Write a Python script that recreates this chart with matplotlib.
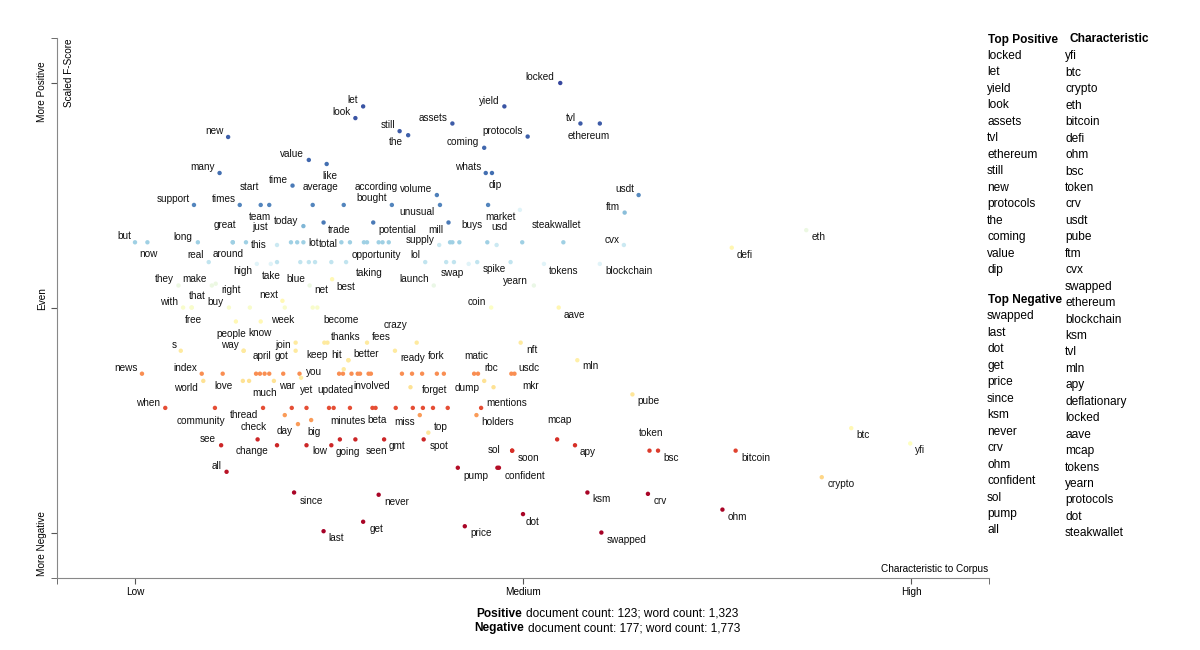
import matplotlib.pyplot as plt

plt.rcParams['font.family'] = ['Liberation Sans', 'DejaVu Sans']

# labelled terms: characteristic score (x), scaled F-score (y), colour score
words = ['locked', 'let', 'look', 'yield', 'assets', 'still', 'the', 'protocols', 'coming', 'tvl',
         'ethereum', 'new', 'value', 'like', 'many', 'whats', 'dip', 'time', 'start', 'average',
         'according', 'bought', 'volume', 'unusual', 'support', 'times', 'team', 'usdt', 'ftm', 'market',
         'today', 'trade', 'potential', 'mill', 'buys', 'usd', 'steakwallet', 'great', 'just', 'this',
         'but', 'now', 'long', 'lot', 'total', 'opportunity', 'supply', 'cvx', 'real', 'around',
         'high', 'take', 'blue', 'net', 'best', 'taking', 'lol', 'swap', 'spike', 'tokens',
         'blockchain', 'launch', 'yearn', 'they', 'make', 'right', 'with', 'that', 'free', 'buy',
         'next', 'week', 'become', 'coin', 'aave', 'people', 'know', 's', 'way', 'april',
         'join', 'got', 'keep', 'thanks', 'hit', 'better', 'crazy', 'fees', 'ready', 'nft',
         'mln', 'news', 'index', 'you', 'fork', 'matic', 'rbc', 'usdc', 'world', 'love',
         'much', 'war', 'yet', 'updated', 'involved', 'forget', 'dump', 'mkr', 'when', 'community',
         'thread', 'check', 'day', 'big', 'minutes', 'beta', 'miss', 'top', 'holders', 'mentions',
         'see', 'change', 'low', 'going', 'seen', 'gmt', 'spot', 'sol', 'soon', 'mcap',
         'apy', 'token', 'bsc', 'bitcoin', 'pube', 'all', 'pump', 'confident', 'since', 'never',
         'ksm', 'crv', 'ohm', 'dot', 'get', 'price', 'last', 'swapped', 'crypto', 'btc',
         'yfi', 'eth', 'defi']

char_x = [.548, .294, .284, .476, .409, .341, .352, .506, .450, .574,
          .599, .120, .224, .247, .109, .452, .460, .203, .162, .229,
          .269, .331, .389, .393, .076, .135, .173, .649, .631, .455,
          .217, .243, .307, .404, .418, .454, .552, .126, .143, .183,
          .000, .016, .081, .217, .266, .299, .392, .630, .095, .126,
          .157, .183, .225, .254, .253, .272, .374, .411, .441, .527,
          .599, .385, .514, .056, .099, .104, .062, .073, .073, .121,
          .190, .193, .235, .459, .546, .130, .162, .059, .140, .140,
          .207, .207, .244, .248, .275, .275, .299, .335, .363, .497,
          .570, .009, .086, .212, .357, .437, .442, .485, .088, .139,
          .179, .191, .214, .263, .287, .355, .450, .489, .039, .103,
          .165, .193, .210, .227, .256, .310, .336, .378, .440, .446,
          .111, .158, .221, .264, .284, .321, .372, .486, .486, .544,
          .567, .663, .674, .774, .641, .118, .416, .469, .205, .314,
          .583, .661, .757, .500, .294, .425, .243, .601, .885, .923,
          .999, .865, .769]

fscore_y = [1.000, .948, .922, .948, .910, .893, .884, .881, .856, .910,
            .910, .880, .829, .820, .800, .800, .800, .772, .729, .729,
            .729, .729, .751, .729, .729, .729, .729, .751, .712, .729,
            .682, .690, .690, .690, .646, .646, .646, .646, .646, .640,
            .646, .646, .646, .646, .646, .646, .640, .640, .602, .646,
            .598, .602, .550, .564, .602, .602, .602, .602, .602, .598,
            .598, .550, .550, .550, .550, .554, .501, .501, .501, .501,
            .516, .501, .501, .501, .501, .470, .470, .405, .405, .405,
            .423, .405, .423, .423, .384, .384, .423, .405, .423, .423,
            .384, .354, .354, .354, .354, .354, .354, .354, .338, .338,
            .338, .354, .345, .354, .354, .324, .338, .354, .278, .278,
            .278, .262, .242, .251, .278, .278, .278, .223, .262, .278,
            .195, .208, .195, .208, .208, .208, .208, .183, .183, .208,
            .195, .183, .183, .183, .308, .136, .145, .145, .090, .085,
            .090, .087, .052, .042, .025, .015, .004, .001, .124, .233,
            .199, .673, .634]

color_score = [.97, .95, .95, .95, .94, .94, .93, .93, .92, .94,
               .94, .93, .92, .91, .91, .91, .91, .89, .87, .87,
               .87, .87, .88, .87, .87, .87, .87, .86, .76, .87,
               .78, .89, .89, .89, .72, .72, .72, .72, .72, .64,
               .72, .72, .72, .72, .72, .72, .64, .64, .66, .72,
               .60, .66, .56, .48, .66, .66, .66, .66, .66, .60,
               .60, .57, .57, .56, .56, .56, .52, .52, .52, .52,
               .48, .52, .52, .51, .47, .48, .48, .43, .43, .43,
               .43, .43, .43, .43, .43, .43, .43, .43, .43, .43,
               .45, .25, .25, .25, .25, .25, .25, .25, .41, .41,
               .41, .25, .44, .25, .25, .41, .41, .25, .15, .15,
               .15, .27, .27, .27, .15, .15, .15, .42, .27, .15,
               .08, .08, .08, .08, .08, .08, .08, .10, .10, .10,
               .10, .12, .12, .13, .42, .04, .03, .03, .01, .01,
               .01, .01, .01, .01, .01, .01, .00, .00, .38, .48,
               .50, .56, .47]

# unlabelled terms
bg_x = [.201, .209, .277, .295, .314, .319, .327, .406, .409, .499, .466,
        .213, .224, .232, .401, .484, .175, .430,
        .148, .229,
        .113, .156, .161, .167, .173, .268, .279, .290, .301, .304, .344, .370, .389, .398,
        .269, .147, .462,
        .202, .221, .250, .277, .306, .358, .371, .384, .403, .367,
        .183, .253, .467, .496]
bg_y = [.646, .646, .646, .646, .646, .646, .646, .646, .646, .646, .640,
        .602, .602, .602, .602, .602, .598, .598,
        .501, .501,
        .354, .354, .354, .354, .354, .354, .354, .354, .354, .354, .354, .354, .354, .354,
        .364, .338, .324,
        .278, .278, .278, .278, .278, .278, .278, .278, .278, .262,
        .195, .195, .145, .718]
bg_c = [.72, .72, .72, .72, .72, .72, .72, .72, .72, .72, .64,
        .66, .66, .66, .66, .66, .60, .60,
        .52, .52,
        .25, .25, .25, .25, .25, .25, .25, .25, .25, .25, .25, .25, .25, .25,
        .43, .41, .41,
        .15, .15, .15, .15, .15, .15, .15, .15, .15, .27,
        .08, .08, .03, .60]

# label placement relative to the dot (pixels)
label_dx = [-20, -10, -14, -15, -19, -12, -12, -25, -21, -10,
            -11, -14, -17, 3, -17, -18, 3, -14, -11, 8,
            32, -20, -21, -23, -21, -16, -9, -14, -12, 12,
            -17, 16, 24, -13, 13, 12, -7, -8, 14, -18,
            -11, 1, -15, 10, -13, 9, -19, -12, -13, -5,
            -14, -6, -14, -11, 15, 23, -10, -2, 17, 20,
            29, -20, -18, -14, -17, 15, -14, 6, 2, -13,
            -14, -2, 24, -14, 16, -5, -1, -7, -14, 18,
            -13, -14, -7, 18, -12, 18, 28, -14, -4, 11,
            13, -16, -16, 15, 24, 2, 13, 18, -17, -19,
            -9, 4, 6, -4, 14, 24, -17, 16, -17, -14,
            -19, -31, -13, 3, 14, 2, 9, 12, 21, 26,
            -13, -6, 13, 8, 21, 13, 15, -18, 16, 2,
            13, 2, 13, 20, 16, -10, 18, 26, 17, 18,
            14, 12, 15, 10, 13, 16, 13, 25, 19, 12,
            10, 12, 13]
label_dy = [6, 6, 6, 5, 6, 6, -7, 6, 6, 6,
            -12, 6, 6, -12, 6, 6, -12, 6, 18, 18,
            18, 7, 6, -7, 6, 6, -12, 6, 6, -12,
            5, -7, -7, -7, 17, 15, 17, 17, 15, 0,
            6, -12, 5, -1, -2, -13, 5, 5, 7, -12,
            -7, -14, 6, -11, -25, -11, 7, -11, -7, -7,
            -7, 6, 5, 6, 6, -6, 6, 12, -12, 6,
            6, -12, -12, 6, -7, -12, -11, 6, 6, -5,
            -2, -5, -12, 6, 5, 6, 18, 14, -15, -7,
            -6, 6, 6, 2, 18, 18, 6, 6, -7, -5,
            -12, -12, -12, -16, -12, -3, -7, -12, 5, -13,
            -7, -12, -7, -12, -13, -12, -14, 6, -7, 5,
            6, -12, -6, -13, -12, -7, -7, 1, -7, 19,
            -7, 18, -7, -7, -7, 6, -8, -8, -8, -7,
            -7, -7, -7, -8, -7, -7, -7, -7, -7, -7,
            -7, -7, -7]

top_positive = ['locked', 'let', 'yield', 'look', 'assets', 'tvl', 'ethereum', 'still',
                'new', 'protocols', 'the', 'coming', 'value', 'dip']
top_negative = ['swapped', 'last', 'dot', 'get', 'price', 'since', 'ksm', 'never',
                'crv', 'ohm', 'confident', 'sol', 'pump', 'all']
characteristic = ['yfi', 'btc', 'crypto', 'eth', 'bitcoin', 'defi', 'ohm', 'bsc', 'token', 'crv',
                  'usdt', 'pube', 'ftm', 'cvx', 'swapped', 'ethereum', 'blockchain', 'ksm', 'tvl',
                  'mln', 'apy', 'deflationary', 'locked', 'aave', 'mcap', 'tokens', 'yearn',
                  'protocols', 'dot', 'steakwallet']

W, H = 1200, 650
fig = plt.figure(figsize=(12, 6.5), dpi=100)
ax = fig.add_axes([57.4 / W, 1 - 578 / H, 931.2 / W, 540 / H])
cmap = plt.get_cmap('RdYlBu')

ax.scatter(bg_x, bg_y, c=[cmap(v) for v in bg_c], s=10, linewidths=0, zorder=2)
ax.scatter(char_x, fscore_y, c=[cmap(v) for v in color_score], s=10, linewidths=0, zorder=3)
for w, x, y, dx, dy in zip(words, char_x, fscore_y, label_dx, label_dy):
    ax.annotate(w, (x, y), xytext=(dx, dy), textcoords='offset pixels',
                ha='center', va='center', fontsize=7.2, color='#111', zorder=4)

ax.set_xlim(-0.1, 1.1)
ax.set_ylim(-0.1, 1.1)
for s in ['top', 'right']:
    ax.spines[s].set_visible(False)
for s in ['left', 'bottom']:
    ax.spines[s].set_color('#888')

ax.set_xticks([0, 0.5, 1])
ax.set_xticklabels(['Low', 'Medium', 'High'])
ax.set_xticks([-0.1, 1.1], minor=True)
ax.set_yticks([0, 0.5, 1])
ax.set_yticklabels([])
ax.set_yticks([-0.1, 1.1], minor=True)
ax.tick_params(which='both', length=4.3, color='#555', labelsize=7.2, pad=2)

ytr = ax.get_yaxis_transform()
ax.text(-0.0165, 0.981, 'More Positive', transform=ytr, rotation=90,
        ha='center', va='center', fontsize=7.2)
ax.text(-0.0165, 0.522, 'Even', transform=ytr, rotation=90,
        ha='center', va='center', fontsize=7.2)
ax.text(-0.0165, -0.024, 'More Negative', transform=ytr, rotation=90,
        ha='center', va='center', fontsize=7.2)
ax.text(0.0125, 1.023, 'Scaled F-Score', transform=ytr, rotation=90,
        ha='center', va='center', fontsize=7.2)
ax.text(1.0, 0.0167, 'Characteristic to Corpus', transform=ax.transAxes,
        ha='right', va='center', fontsize=7.2)

# side lists
def ftxt(px, py, s, **kw):
    fig.text(px / W, 1 - py / H, s, va='center', fontsize=8.6, **kw)

ftxt(988, 39.5, 'Top Positive', fontweight='bold')
for i, w in enumerate(top_positive):
    ftxt(987, 56 + i * 16.47, w)
ftxt(988, 300, 'Top Negative', fontweight='bold')
for i, w in enumerate(top_negative):
    ftxt(987, 316.5 + i * 16.46, w)
ftxt(1069, 39.5, 'Characteristic', fontweight='bold')
for i, w in enumerate(characteristic):
    ftxt(1065, 56.5 + i * 16.44, w)

# document counts
ftxt(522, 614, 'Positive', fontweight='bold', ha='right')
ftxt(526, 614, 'document count: 123; word count: 1,323', ha='left')
ftxt(524, 628.5, 'Negative', fontweight='bold', ha='right')
ftxt(528, 628.5, 'document count: 177; word count: 1,773', ha='left')

fig.savefig('out.png', dpi=100)
